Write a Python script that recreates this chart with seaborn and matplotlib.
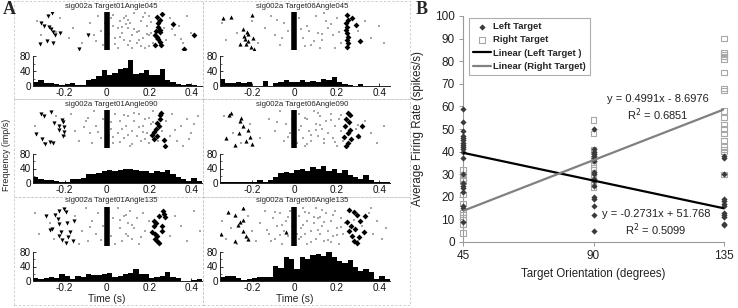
import numpy as np
import pandas as pd
import matplotlib
matplotlib.use("Agg")
import matplotlib.pyplot as plt
import seaborn as sns
from matplotlib.patches import Rectangle

sns.set_theme(style="white")
plt.rcParams['font.family'] = ['Liberation Sans', 'DejaVu Sans']

# ---------------- Panel A data ----------------
bin_edges = [-0.35 + 0.025 * i for i in range(33)]
time_ticks = [-0.2, 0, 0.2, 0.4]
time_tick_labels = ["-0.2", "0", "0.2", "0.4"]
rate_ticks = [0, 40, 80]

titles = ["sig002a Target01Angle045", "sig002a Target06Angle045",
          "sig002a Target01Angle090", "sig002a Target06Angle090",
          "sig002a Target01Angle135", "sig002a Target06Angle135"]

hist_01_045 = [12, 16, 7, 9, 5, 4, 5, 7, 2, 2, 15, 19, 26, 42, 30, 34, 45, 47, 70, 32, 35, 42, 30, 30, 45, 15, 12, 6, 3, 5, 4, 0]
hist_06_045 = [18, 9, 7, 10, 7, 11, 0, 0, 14, 0, 7, 10, 15, 12, 10, 15, 12, 14, 10, 19, 17, 24, 12, 5, 4, 0, 5, 0, 0, 0, 0, 0]
hist_01_090 = [17, 10, 8, 7, 5, 4, 2, 10, 10, 13, 25, 24, 28, 34, 36, 33, 36, 40, 40, 36, 33, 32, 28, 34, 30, 36, 24, 17, 10, 5, 14, 6]
hist_06_090 = [4, 4, 4, 2, 4, 4, 2, 8, 2, 8, 17, 27, 30, 27, 36, 40, 32, 44, 40, 46, 32, 40, 27, 36, 21, 17, 11, 21, 8, 4, 4, 2]
hist_01_135 = [7, 5, 8, 10, 7, 19, 14, 5, 14, 10, 19, 17, 17, 19, 21, 12, 14, 19, 23, 34, 19, 19, 7, 12, 14, 25, 10, 7, 1, 1, 3, 6]
hist_06_135 = [10, 14, 15, 8, 3, 6, 9, 10, 12, 12, 42, 35, 66, 61, 33, 66, 61, 72, 75, 68, 86, 65, 55, 50, 57, 39, 28, 32, 26, 6, 15, 6]

# raster event markers: (time, trial row from top)
tri_01_045 = [(-0.258, 0), (-0.28, 1), (-0.311, 4), (-0.296, 5), (-0.272, 5.5), (-0.264, 6.5), (-0.253, 7.6),
              (-0.221, 8), (-0.248, 9), (-0.285, 11.2), (-0.319, 12.5), (-0.253, 12.3), (-0.09, 8.7), (-0.134, 14.6)]
dia_01_045 = [(0.259, 0.3), (0.237, 1.4), (0.25, 2.7), (0.313, 4.5), (0.24, 3.9), (0.24, 5.6), (0.252, 6.6),
              (0.232, 7.1), (0.253, 7.6), (0.229, 8.7), (0.237, 9.8), (0.243, 10.6), (0.25, 11.7), (0.229, 12.8),
              (0.255, 12.8), (0.411, 8.7), (0.364, 14.6)]
tri_06_045 = [(-0.335, 2), (-0.296, 1.3), (-0.198, 0.6), (-0.241, 6.5), (-0.225, 7.5), (-0.217, 8.4), (-0.238, 9.2),
              (-0.231, 10.5), (-0.197, 10), (-0.216, 11.5), (-0.257, 12.7), (-0.228, 12.6), (-0.19, 14.4), (-0.206, 13.6)]
dia_06_045 = [(0.247, 0.6), (0.271, 2), (0.252, 2.6), (0.291, 4.7), (0.244, 4), (0.247, 5.5), (0.242, 6.8),
              (0.247, 8.2), (0.25, 9.5), (0.247, 10.9), (0.252, 12.3), (0.31, 11.4), (0.247, 13.6)]
tri_01_090 = [(-0.31, 1.2), (-0.265, 0.4), (-0.299, 2), (-0.25, 4.8), (-0.214, 3.7), (-0.206, 4.5), (-0.226, 5.9),
              (-0.203, 6.2), (-0.228, 7.5), (-0.201, 8.3), (-0.335, 9.1), (-0.307, 11.3), (-0.269, 12.4),
              (-0.291, 13.2), (-0.253, 12.9), (-0.206, 9.9)]
dia_01_090 = [(0.258, 0.5), (0.253, 1.6), (0.25, 3), (0.237, 4.6), (0.247, 6), (0.234, 7.1), (0.221, 8.5),
              (0.213, 9.5), (0.237, 9.9), (0.224, 11.3), (0.269, 11.6), (0.277, 14)]
tri_06_090 = [(-0.31, 1.5), (-0.3, 0.8), (-0.255, 4), (-0.24, 6), (-0.22, 7.5), (-0.26, 9), (-0.32, 11),
              (-0.21, 10.5), (-0.23, 12), (-0.28, 13.6), (-0.2, 13.2), (-0.25, 2.5)]
dia_06_090 = [(0.25, 0.5), (0.262, 1.5), (0.245, 3), (0.255, 4.5), (0.24, 6), (0.26, 7.5), (0.25, 9),
              (0.235, 10.3), (0.265, 11.5), (0.25, 12.8), (0.3, 10), (0.32, 6), (0.245, 14)]
tri_01_135 = [(-0.229, 1), (-0.202, 0.3), (-0.196, 1.6), (-0.289, 3), (-0.245, 2.7), (-0.234, 4.3), (-0.155, 5),
              (-0.19, 5.9), (-0.229, 6.3), (-0.261, 8.3), (-0.269, 8.5), (-0.218, 9.6), (-0.174, 9.6),
              (-0.229, 10.9), (-0.182, 11.2), (-0.163, 12.9), (-0.196, 13.6), (-0.213, 12.5)]
dia_01_135 = [(0.264, 0.9), (0.269, 2.2), (0.245, 2.9), (0.273, 3.6), (0.221, 4.9), (0.234, 5.9), (0.224, 7),
              (0.261, 7.2), (0.259, 8.9), (0.213, 9.6), (0.237, 10.9), (0.229, 12), (0.237, 12.9), (0.245, 13.6),
              (0.229, 10.3)]
tri_06_135 = [(-0.312, 1.5), (-0.28, 2.5), (-0.244, 0), (-0.257, 5.4), (-0.241, 4.8), (-0.265, 6.8),
              (-0.343, 10.3), (-0.28, 12.8), (-0.244, 8.8), (-0.228, 11.1), (-0.217, 12.1), (-0.04, 9.5)]
dia_06_135 = [(0.255, 0.6), (0.279, 1.6), (0.295, 2.7), (0.334, 3.2), (0.31, 5), (0.247, 5.6), (0.266, 6.9),
              (0.287, 8.2), (0.326, 9.6), (0.255, 9), (0.271, 10.9), (0.302, 11.2), (0.279, 12.9), (0.295, 13.6)]

# background spikes: (time, trial row)
dots_01_045 = [(-0.33, 3), (-0.31, 9), (-0.22, 2), (-0.18, 10), (-0.16, 6), (-0.12, 12), (-0.08, 4), (-0.06, 9),
               (-0.04, 1), (-0.03, 7), (-0.02, 13), (0.02, 2), (0.03, 5), (0.04, 10), (0.05, 14), (0.06, 3),
               (0.07, 8), (0.08, 11), (0.09, 1), (0.1, 6), (0.1, 13), (0.11, 4), (0.12, 9), (0.13, 0), (0.14, 12),
               (0.15, 7), (0.16, 3), (0.17, 10), (0.18, 14), (0.19, 5), (0.2, 1), (0.21, 8), (0.22, 12), (0.24, 3),
               (0.27, 6), (0.28, 11), (0.3, 2), (0.32, 9), (0.34, 5), (0.36, 12), (0.38, 1), (0.4, 8), (0.05, 6),
               (0.08, 2), (0.12, 14), (-0.01, 4), (0.15, 11), (0.18, 0), (0.2, 9), (0.25, 13),
               (0.03, 0.5), (0.06, 9.5), (0.09, 4.5), (0.11, 11.5), (0.13, 6.5), (0.16, 13.5), (0.17, 1.5),
               (0.19, 8.5), (0.21, 3.5), (0.23, 10.5), (0.04, 12.5), (0.07, 5.5), (0.1, 2.5), (0.14, 7.5),
               (-0.05, 11.5), (0.01, 8.5), (0.2, 13.5), (0.31, 6.5), (0.35, 10.5), (-0.24, 7.5)]
dots_06_045 = [(-0.34, 4), (-0.32, 11), (-0.27, 8), (-0.2, 3), (-0.17, 12), (-0.14, 6), (-0.11, 1), (-0.09, 9),
               (-0.07, 13), (-0.05, 4), (-0.03, 7), (0.02, 2), (0.04, 10), (0.06, 5), (0.08, 13), (0.1, 1),
               (0.11, 8), (0.13, 11), (0.15, 3), (0.16, 6), (0.18, 9), (0.19, 14), (0.2, 2), (0.22, 12), (0.3, 7),
               (0.33, 3), (0.36, 10), (0.4, 5), (0.42, 12), (0.07, 7), (0.14, 0), (-0.06, 10), (0.12, 14),
               (0.03, 6.5), (0.09, 11.5), (0.17, 4.5), (-0.08, 2.5), (0.13, 8.5), (0.05, 13.5), (0.21, 7.5)]
dots_01_090 = [(-0.34, 6), (-0.3, 13), (-0.24, 2), (-0.2, 10), (-0.17, 1), (-0.15, 8), (-0.13, 12), (-0.1, 4),
               (-0.08, 9), (-0.06, 0), (-0.05, 6), (-0.03, 11), (-0.02, 3), (0.02, 7), (0.03, 13), (0.04, 1),
               (0.05, 9), (0.06, 4), (0.08, 11), (0.09, 6), (0.1, 2), (0.11, 14), (0.12, 8), (0.13, 4), (0.14, 10),
               (0.15, 1), (0.16, 12), (0.17, 6), (0.18, 3), (0.19, 9), (0.2, 13), (0.21, 5), (0.22, 0), (0.26, 8),
               (0.28, 4), (0.3, 10), (0.31, 1), (0.33, 12), (0.35, 6), (0.38, 3), (0.4, 9), (0.43, 2), (0.41, 5),
               (0.07, 7), (0.01, 10), (-0.07, 13), (0.24, 12), (0.36, 14),
               (-0.09, 2.5), (-0.04, 8.5), (0.02, 4.5), (0.06, 12.5), (0.1, 9.5), (0.13, 0.5), (0.15, 6.5),
               (0.18, 11.5), (0.2, 2.5), (0.03, 10.5), (0.08, 1.5), (0.12, 13.5), (0.17, 8.5), (0.32, 7.5),
               (0.39, 11.5), (-0.11, 6.5), (0.22, 4.5)]
dots_06_090 = [(-0.33, 2), (-0.29, 9), (-0.25, 13), (-0.21, 5), (-0.16, 11), (-0.12, 3), (-0.09, 8), (-0.07, 0),
               (-0.05, 12), (-0.04, 5), (-0.02, 9), (0.02, 1), (0.03, 6), (0.04, 11), (0.05, 14), (0.06, 3),
               (0.07, 8), (0.08, 12), (0.09, 0), (0.1, 5), (0.11, 10), (0.12, 2), (0.13, 7), (0.14, 13), (0.15, 4),
               (0.16, 9), (0.17, 1), (0.18, 11), (0.19, 6), (0.2, 14), (0.21, 3), (0.22, 8), (0.23, 12), (0.27, 2),
               (0.29, 7), (0.31, 11), (0.33, 4), (0.36, 9), (0.39, 13), (0.42, 6), (-0.01, 3), (0.01, 13),
               (-0.08, 4.5), (-0.03, 10.5), (0.02, 7.5), (0.05, 2.5), (0.08, 9.5), (0.11, 0.5), (0.12, 5.5),
               (0.14, 11.5), (0.17, 3.5), (0.19, 12.5), (0.22, 1.5), (0.06, 13.5), (0.1, 7.5), (0.3, 5.5)]
dots_01_135 = [(-0.34, 2), (-0.32, 10), (-0.27, 6), (-0.25, 12), (-0.15, 3), (-0.12, 9), (-0.1, 0), (-0.09, 13),
               (-0.07, 5), (-0.05, 10), (-0.04, 2), (-0.02, 7), (0.02, 11), (0.03, 4), (0.05, 0), (0.06, 8),
               (0.07, 13), (0.08, 3), (0.09, 10), (0.1, 6), (0.11, 1), (0.12, 12), (0.13, 8), (0.14, 4), (0.15, 14),
               (0.17, 2), (0.18, 9), (0.2, 5), (0.3, 11), (0.32, 3), (0.35, 7), (0.38, 13), (0.41, 1), (0.44, 9),
               (0.04, 14), (-0.13, 14), (0.1, 11),
               (-0.08, 7.5), (0.01, 1.5), (0.06, 4.5), (0.12, 6.5), (0.16, 11.5), (-0.03, 12.5), (0.09, 2.5)]
dots_06_135 = [(-0.34, 5), (-0.32, 12), (-0.3, 8), (-0.27, 14), (-0.22, 3), (-0.2, 9), (-0.18, 13), (-0.16, 6),
               (-0.14, 1), (-0.12, 10), (-0.1, 4), (-0.09, 12), (-0.08, 7), (-0.07, 2), (-0.06, 14), (-0.05, 9),
               (-0.04, 5), (-0.03, 11), (-0.02, 1), (-0.01, 7), (0.02, 3), (0.02, 12), (0.03, 8), (0.04, 0),
               (0.05, 10), (0.06, 5), (0.06, 14), (0.07, 2), (0.08, 9), (0.09, 6), (0.1, 12), (0.1, 0), (0.11, 4),
               (0.12, 10), (0.13, 7), (0.14, 13), (0.15, 2), (0.16, 9), (0.17, 5), (0.18, 11), (0.19, 1), (0.2, 8),
               (0.21, 14), (0.22, 4), (0.23, 10), (0.24, 6), (0.3, 13), (0.32, 7), (0.35, 2), (0.37, 10),
               (0.39, 5), (0.41, 12), (0.43, 8), (0.36, 0), (-0.11, 13), (0.01, 10),
               (-0.09, 1.5), (-0.06, 6.5), (-0.03, 3.5), (0.03, 11.5), (0.05, 1.5), (0.08, 13.5), (0.09, 3.5),
               (0.11, 8.5), (0.13, 0.5), (0.14, 5.5), (0.16, 12.5), (0.18, 2.5), (0.2, 10.5), (0.22, 7.5),
               (-0.07, 10.5), (0.04, 6.5), (0.12, 3.5), (0.17, 13.5), (-0.13, 8.5), (0.28, 4.5)]

hists = [hist_01_045, hist_06_045, hist_01_090, hist_06_090, hist_01_135, hist_06_135]
tris = [tri_01_045, tri_06_045, tri_01_090, tri_06_090, tri_01_135, tri_06_135]
dias = [dia_01_045, dia_06_045, dia_01_090, dia_06_090, dia_01_135, dia_06_135]
dots = [dots_01_045, dots_06_045, dots_01_090, dots_06_090, dots_01_135, dots_06_135]

# ---------------- Panel B data ----------------
orient_left_45 = [59, 53, 49, 47, 46, 45, 44, 43, 42, 41, 40, 37, 30, 26, 25, 24, 22, 16, 15, 9]
orient_left_90 = [50, 41, 40, 39, 38, 37, 36, 31, 30, 28, 27, 25, 20, 19, 16, 12, 5]
orient_left_135 = [38, 37, 30, 19, 18, 17, 16, 13, 12, 11, 8, 7.5]
orient_right_45 = [32, 30, 28, 27, 21, 17, 13, 12, 10, 8, 4]
orient_right_90 = [54, 48, 41, 40, 37, 36, 35, 33, 32, 30, 29, 27, 26, 24]
orient_right_135 = [90, 84, 83, 82, 81, 75, 68, 67, 58, 55, 52, 50, 48, 45, 42, 41, 40, 30]
orientations = [45, 90, 135]
fit_left = (-0.2731, 51.768)
fit_right = (0.4991, -8.6976)

# ---------------- Figure ----------------
W, H = 738, 308
fig = plt.figure(figsize=(W / 100, H / 100), dpi=100)


def add_ax(x0, y0, x1, y1):
    return fig.add_axes([x0 / W, 1 - y1 / H, (x1 - x0) / W, (y1 - y0) / H])


col_x = [(33, 202), (220, 390)]
title_x = [111, 302]
rows = [  # title y, raster top, raster bottom, hist top, hist bottom
    (7, 12, 50, 56, 86),
    (104, 110, 148, 154, 183),
    (200, 207, 246, 252, 281),
]
boxes_x = [(14, 203), (203, 410)]
boxes_y = [(1, 99), (99, 197), (197, 305)]

for bx0, bx1 in boxes_x:
    for by0, by1 in boxes_y:
        fig.add_artist(Rectangle((bx0 / W, 1 - by1 / H), (bx1 - bx0) / W, (by1 - by0) / H,
                                 transform=fig.transFigure, fill=False, ec="#c8c8c8",
                                 lw=0.6, ls=(0, (3, 2))))

for i in range(6):
    r, c = divmod(i, 2)
    x0, x1 = col_x[c]
    ty, rt, rb, ht, hb = rows[r]
    fig.text(title_x[c] / W, 1 - ty / H, titles[i], ha="center", va="center", fontsize=5.6)

    # raster
    axr = add_ax(x0, rt, x1, rb)
    d = pd.DataFrame(dots[i], columns=["t", "trial"])
    sns.scatterplot(data=d, x="t", y="trial", ax=axr, s=1.0, color="#a5a5a5", linewidth=0, marker="s")
    tr = pd.DataFrame(tris[i], columns=["t", "trial"])
    sns.scatterplot(data=tr, x="t", y="trial", ax=axr, s=9, color="black", linewidth=0,
                    marker="v" if c == 0 else "^")
    di = pd.DataFrame(dias[i], columns=["t", "trial"])
    sns.scatterplot(data=di, x="t", y="trial", ax=axr, s=9, color="black", linewidth=0, marker="D")
    axr.axvline(0, color="black", lw=4, solid_capstyle="butt")
    axr.set_xlim(-0.35, 0.45)
    axr.set_ylim(15, -0.6)
    axr.axis("off")

    # histogram
    axh = add_ax(x0, ht, x1, hb)
    centers = [(bin_edges[k] + bin_edges[k + 1]) / 2 for k in range(len(bin_edges) - 1)]
    sns.histplot(x=centers, weights=hists[i], bins=bin_edges, ax=axh, color="black",
                 element="bars", fill=True, alpha=1, linewidth=0)
    axh.set_xlim(-0.35, 0.45)
    axh.set_ylim(0, 80)
    axh.set_yticks(rate_ticks)
    axh.set_yticks([20, 60], minor=True)
    axh.set_xticks(time_ticks)
    axh.set_xticklabels(time_tick_labels)
    axh.set_xlabel("")
    axh.set_ylabel("")
    for s in ["top", "right"]:
        axh.spines[s].set_visible(False)
    for s in ["left", "bottom"]:
        axh.spines[s].set_color("#222222")
        axh.spines[s].set_linewidth(0.7)
    axh.tick_params(axis="both", which="major", direction="in", length=2.5, width=0.6,
                    labelsize=7.2, pad=1.5, colors="#111111", left=True, bottom=True)
    axh.tick_params(axis="y", which="minor", direction="in", length=1.5, width=0.5, left=True)
    if r == 2:
        t0 = x0 + (x1 - x0) * (0.35 / 0.8)
        fig.text(t0 / W, 1 - 299 / H, "Time (s)", ha="center", va="center", fontsize=7.4)

fig.text(7 / W, 1 - 155 / H, "Frequency (imp/s)", rotation=90, ha="center", va="center",
         fontsize=6.4, color="#222222")
fig.text(3 / W, 1 - 10 / H, "A", fontsize=13, fontweight="bold", family="Liberation Serif",
         ha="left", va="center")
fig.text(416 / W, 1 - 9 / H, "B", fontsize=13, fontweight="bold", family="Liberation Serif",
         ha="left", va="center")

# ---------------- Panel B ----------------
axb = add_ax(463, 16, 724, 242)
left_df = pd.DataFrame({
    "orientation": [45] * len(orient_left_45) + [90] * len(orient_left_90) + [135] * len(orient_left_135),
    "rate": orient_left_45 + orient_left_90 + orient_left_135})
right_df = pd.DataFrame({
    "orientation": [45] * len(orient_right_45) + [90] * len(orient_right_90) + [135] * len(orient_right_135),
    "rate": orient_right_45 + orient_right_90 + orient_right_135})

sns.scatterplot(data=right_df, x="orientation", y="rate", ax=axb, marker="s", s=14,
                facecolor="none", edgecolor="#a8a8a8", linewidth=0.8, label="Right Target", zorder=3,
                clip_on=False)
sns.scatterplot(data=left_df, x="orientation", y="rate", ax=axb, marker="D", s=10,
                color="#3a3a3a", linewidth=0, label="Left Target", zorder=4, clip_on=False)

xs = np.array([orientations[0], orientations[-1]])
axb.plot(xs, fit_left[0] * xs + fit_left[1], color="black", lw=1.6, label="Linear (Left Target )", zorder=5)
axb.plot(xs, fit_right[0] * xs + fit_right[1], color="#808080", lw=1.6, label="Linear (Right Target)", zorder=5)

axb.set_xlim(45, 135)
axb.set_ylim(0, 100)
axb.set_xticks(orientations)
axb.set_yticks(range(0, 101, 10))
axb.set_xlabel("Target Orientation (degrees)", fontsize=8.3, color="#222222", labelpad=4)
axb.set_ylabel("Average Firing Rate (spikes/s)", fontsize=8.3, color="#222222")
axb.yaxis.set_label_coords(-0.149, 0.5)
for s in ["top", "right"]:
    axb.spines[s].set_visible(False)
for s in ["left", "bottom"]:
    axb.spines[s].set_color("#9a9a9a")
    axb.spines[s].set_linewidth(0.8)
axb.tick_params(axis="both", direction="out", length=3, width=0.7, color="#9a9a9a",
                labelsize=8.5, labelcolor="#222222", left=True, bottom=True, pad=3)

h, l = axb.get_legend_handles_labels()
order = [l.index("Left Target"), l.index("Right Target"),
         l.index("Linear (Left Target )"), l.index("Linear (Right Target)")]
leg = axb.legend([h[k] for k in order], [l[k] for k in order], loc="upper left",
                 bbox_to_anchor=(0.015, 1.0), frameon=True, fancybox=False,
                 prop={"weight": "bold", "size": 6.8}, handlelength=1.9, borderpad=0.45,
                 labelspacing=0.45, handletextpad=0.25, borderaxespad=0.2)
leg.get_frame().set_edgecolor("#9a9a9a")
leg.get_frame().set_linewidth(0.8)

axb.text(112.2, 63.1, "y = 0.4991x - 8.6976", fontsize=8, ha="center", va="center", color="#222222")
axb.text(112.2, 56.5, "R$^2$ = 0.6851", fontsize=8, ha="center", va="center", color="#222222")
axb.text(111.6, 12.4, "y = -0.2731x + 51.768", fontsize=8, ha="center", va="center", color="#222222")
axb.text(111.5, 5.3, "R$^2$ = 0.5099", fontsize=8, ha="center", va="center", color="#222222")

fig.savefig("out.png", dpi=100)
